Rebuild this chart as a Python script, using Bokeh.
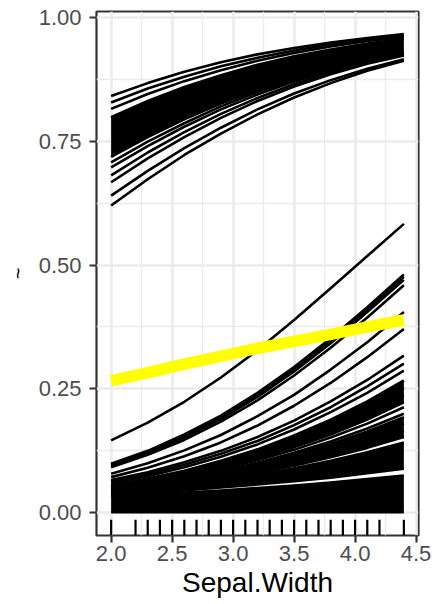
from bokeh.plotting import figure
from bokeh.models import FixedTicker, Range1d
from bokeh.embed import file_html
from bokeh.resources import INLINE

# ---------------- data ----------------
sepal_width_grid = [2.0, 2.3, 2.6, 2.9, 3.2, 3.5, 3.8, 4.1, 4.4]

# individual conditional expectation curves, upper group
ice_upper_lines = [
    [0.841, 0.867, 0.890, 0.909, 0.925, 0.938, 0.949, 0.958, 0.966],
    [0.828, 0.856, 0.880, 0.901, 0.918, 0.933, 0.945, 0.955, 0.963],
    [0.815, 0.845, 0.871, 0.893, 0.912, 0.928, 0.941, 0.952, 0.960],
    [0.798, 0.831, 0.859, 0.883, 0.904, 0.921, 0.935, 0.947, 0.957],
    [0.718, 0.758, 0.794, 0.826, 0.853, 0.877, 0.898, 0.915, 0.930],
    [0.707, 0.749, 0.786, 0.820, 0.849, 0.874, 0.896, 0.914, 0.929],
    [0.697, 0.740, 0.779, 0.814, 0.844, 0.870, 0.892, 0.911, 0.927],
    [0.681, 0.727, 0.768, 0.805, 0.837, 0.865, 0.888, 0.908, 0.925],
    [0.667, 0.715, 0.758, 0.797, 0.831, 0.860, 0.885, 0.906, 0.923],
    [0.640, 0.690, 0.736, 0.777, 0.814, 0.846, 0.873, 0.896, 0.915],
    [0.620, 0.673, 0.722, 0.765, 0.804, 0.838, 0.867, 0.892, 0.912],
]
# densely packed curves of the upper group (edges of the black mass)
upper_mass_top = [0.798, 0.831, 0.859, 0.883, 0.904, 0.921, 0.935, 0.947, 0.957]
upper_mass_bottom = [0.718, 0.758, 0.794, 0.826, 0.853, 0.877, 0.898, 0.915, 0.930]

# individual conditional expectation curves, lower group
ice_lower_lines = [
    [0.146, 0.182, 0.224, 0.273, 0.328, 0.389, 0.453, 0.518, 0.583],
    [0.099, 0.125, 0.158, 0.196, 0.242, 0.294, 0.352, 0.415, 0.481],
    [0.097, 0.123, 0.155, 0.193, 0.238, 0.290, 0.348, 0.410, 0.476],
    [0.095, 0.121, 0.152, 0.189, 0.234, 0.285, 0.342, 0.405, 0.470],
    [0.092, 0.117, 0.147, 0.184, 0.227, 0.277, 0.333, 0.394, 0.459],
    [0.079, 0.100, 0.126, 0.157, 0.195, 0.238, 0.289, 0.344, 0.405],
    [0.072, 0.091, 0.114, 0.142, 0.176, 0.216, 0.262, 0.314, 0.371],
    [0.066, 0.082, 0.102, 0.125, 0.153, 0.186, 0.225, 0.268, 0.317],
    [0.063, 0.078, 0.097, 0.119, 0.145, 0.177, 0.213, 0.255, 0.301],
    [0.060, 0.074, 0.092, 0.113, 0.138, 0.168, 0.203, 0.242, 0.287],
    [0.056, 0.069, 0.085, 0.105, 0.128, 0.156, 0.188, 0.225, 0.267],
    [0.054, 0.067, 0.082, 0.100, 0.122, 0.148, 0.178, 0.213, 0.252],
    [0.052, 0.064, 0.078, 0.095, 0.116, 0.140, 0.168, 0.200, 0.237],
    [0.050, 0.061, 0.074, 0.090, 0.109, 0.132, 0.158, 0.188, 0.223],
    [0.049, 0.060, 0.072, 0.088, 0.106, 0.127, 0.152, 0.180, 0.213],
    [0.048, 0.058, 0.070, 0.084, 0.101, 0.121, 0.144, 0.170, 0.200],
    [0.047, 0.057, 0.068, 0.082, 0.098, 0.117, 0.139, 0.164, 0.193],
    [0.045, 0.054, 0.065, 0.077, 0.092, 0.110, 0.130, 0.153, 0.180],
    [0.043, 0.051, 0.061, 0.073, 0.086, 0.102, 0.121, 0.142, 0.166],
    [0.041, 0.049, 0.058, 0.068, 0.081, 0.095, 0.112, 0.131, 0.153],
    [0.040, 0.047, 0.056, 0.065, 0.077, 0.090, 0.105, 0.122, 0.142],
    [0.036, 0.040, 0.045, 0.051, 0.057, 0.064, 0.071, 0.080, 0.089],
    [0.033, 0.037, 0.041, 0.045, 0.050, 0.055, 0.061, 0.068, 0.075],
    [0.001, 0.001, 0.001, 0.001, 0.001, 0.001, 0.001, 0.001, 0.001],
]
# densely packed curves of the lower group (edges of the black masses)
lower_mass_c_top = [0.056, 0.069, 0.085, 0.105, 0.128, 0.156, 0.188, 0.225, 0.267]
lower_mass_c_bottom = [0.050, 0.061, 0.074, 0.090, 0.109, 0.132, 0.158, 0.188, 0.223]
lower_mass_e_top = [0.047, 0.057, 0.068, 0.082, 0.098, 0.117, 0.139, 0.164, 0.193]
lower_mass_e_bottom = [0.041, 0.049, 0.058, 0.068, 0.081, 0.095, 0.112, 0.131, 0.153]
lower_mass_f_top = [0.040, 0.047, 0.056, 0.065, 0.077, 0.090, 0.105, 0.122, 0.142]
lower_mass_f_bottom = [0.036, 0.040, 0.045, 0.051, 0.057, 0.064, 0.071, 0.080, 0.089]
lower_mass_g_top = [0.033, 0.037, 0.041, 0.045, 0.050, 0.055, 0.061, 0.068, 0.075]
lower_mass_g_bottom = [0.001, 0.001, 0.001, 0.001, 0.001, 0.001, 0.001, 0.001, 0.001]

# partial dependence (average) curve
pdp_values = [0.266, 0.283, 0.300, 0.316, 0.332, 0.346, 0.360, 0.375, 0.389]

# observed Sepal.Width values (rug)
rug_values = [2.0, 2.2, 2.3, 2.4, 2.5, 2.6, 2.7, 2.8, 2.9, 3.0, 3.1, 3.2,
              3.3, 3.4, 3.5, 3.6, 3.7, 3.8, 3.9, 4.0, 4.1, 4.2, 4.4]

x_ticks = [2.0, 2.5, 3.0, 3.5, 4.0, 4.5]
x_tick_labels = ["2.0", "2.5", "3.0", "3.5", "4.0", "4.5"]
x_minor = [2.25, 2.75, 3.25, 3.75, 4.25]
y_ticks = [0.0, 0.25, 0.5, 0.75, 1.0]
y_tick_labels = ["0.00", "0.25", "0.50", "0.75", "1.00"]
y_minor = [0.125, 0.375, 0.625, 0.875]

# ---------------- figure ----------------
FONT = "Liberation Sans"
y_lo, y_hi = -0.0458, 1.0115
x_lo, x_hi = 1.88, 4.52

p = figure(width=434, height=604, output_backend="svg", toolbar_location=None,
           x_range=Range1d(x_lo, x_hi), y_range=Range1d(y_lo, y_hi),
           min_border_left=96, min_border_right=16, min_border_top=11,
           min_border_bottom=69)
p.background_fill_color = "white"
p.border_fill_color = "white"
p.outline_line_color = "#333333"
p.outline_line_width = 2.2

for ax in (p.xaxis[0], p.yaxis[0]):
    ax.axis_line_color = None
    ax.major_tick_line_color = "#333333"
    ax.major_tick_line_width = 2.2
    ax.major_tick_in = 0
    ax.major_tick_out = 7
    ax.minor_tick_line_color = None
    ax.major_label_text_font = FONT
    ax.major_label_text_font_size = "22px"
    ax.major_label_text_color = "#4D4D4D"
    ax.axis_label_text_font = FONT
    ax.axis_label_text_font_style = "normal"
    ax.axis_label_text_color = "black"

p.xaxis[0].ticker = FixedTicker(ticks=x_ticks, minor_ticks=x_minor)
p.xaxis[0].major_label_overrides = dict(zip(x_ticks, x_tick_labels))
p.xaxis[0].axis_label = "Sepal.Width"
p.xaxis[0].axis_label_text_font_size = "28px"
p.xaxis[0].major_label_standoff = 3
p.xaxis[0].axis_label_standoff = 3

p.yaxis[0].ticker = FixedTicker(ticks=y_ticks, minor_ticks=y_minor)
p.yaxis[0].major_label_overrides = dict(zip(y_ticks, y_tick_labels))
p.yaxis[0].axis_label = "~"
p.yaxis[0].axis_label_text_font_size = "20px"
p.yaxis[0].major_label_standoff = 8
p.yaxis[0].axis_label_standoff = 7

for g in (p.xgrid[0], p.ygrid[0]):
    g.grid_line_color = "#EBEBEB"
    g.grid_line_width = 2.6
    g.minor_grid_line_color = "#EBEBEB"
    g.minor_grid_line_width = 1.3

# dense masses of curves
for lo, hi in [(upper_mass_bottom, upper_mass_top),
               (lower_mass_c_bottom, lower_mass_c_top),
               (lower_mass_e_bottom, lower_mass_e_top),
               (lower_mass_f_bottom, lower_mass_f_top),
               (lower_mass_g_bottom, lower_mass_g_top)]:
    p.varea(x=sepal_width_grid, y1=lo, y2=hi, color="black")

# individual curves
all_lines = ice_upper_lines + ice_lower_lines
p.multi_line(xs=[sepal_width_grid] * len(all_lines), ys=all_lines,
             line_color="black", line_width=2.6, line_join="round")

# average curve
p.line(sepal_width_grid, pdp_values, line_color="#FFFF00", line_width=11.5,
       line_join="round", line_cap="butt")

# rug
rug_len = 0.03 * (y_hi - y_lo)
p.segment(x0=rug_values, x1=rug_values, y0=[y_lo] * len(rug_values),
          y1=[y_lo + rug_len] * len(rug_values), line_color="black", line_width=2.2)

open("out.html", "w").write(file_html(p, INLINE))
